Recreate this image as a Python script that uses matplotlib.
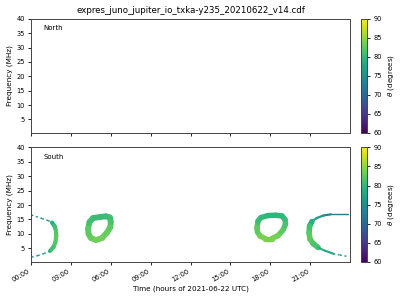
import numpy as np
import matplotlib
matplotlib.use('Agg')
import matplotlib.pyplot as plt
from matplotlib.collections import LineCollection
from matplotlib.colors import Normalize
from matplotlib.cm import ScalarMappable


'''
    Data read off the reference (time in hours, frequency in MHz, theta in degrees)
    North hemisphere: nothing. South: two arcs at the day edges, two rings.
'''
title = 'expres_juno_jupiter_io_txka-y235_20210622_v14.cdf'
tick_hours = [0, 3, 6, 9, 12, 15, 18, 21]
tick_labels = ['00:00', '03:00', '06:00', '09:00', '12:00', '15:00', '18:00', '21:00']

# arc at start of day
arcA_top_t = [0.04, 0.38, 0.83, 1.28, 1.58]
arcA_top_f = [16.54, 16.0, 15.33, 14.64, 13.94]
arcA_top_th = [74, 75, 76, 77, 78]
arcA_mid_t = [1.58, 1.77, 1.88, 1.90, 1.84, 1.69, 1.43]
arcA_mid_f = [13.94, 12.73, 11.0, 9.27, 7.19, 5.45, 4.07]
arcA_mid_th = [79, 81, 82, 82.5, 82, 81, 80]
arcA_low_t = [1.43, 0.98, 0.53, 0.08]
arcA_low_f = [4.07, 3.2, 2.51, 2.0]
arcA_low_th = [78, 77, 76, 75]

# ring around 05:00
ring1_t = [4.29, 4.40, 4.67, 5.19, 5.64, 5.94, 6.0, 5.97, 5.72, 5.34, 4.89, 4.51, 4.33, 4.29]
ring1_f = [11.69, 14.12, 15.5, 15.85, 16.09, 15.68, 14.12, 12.38, 10.48, 8.57, 7.88, 8.57, 9.96, 11.69]
ring1_th = [81.5, 81, 80.5, 80.5, 80.5, 81, 81.5, 82.5, 83, 83.5, 83.5, 83, 82.5, 81.5]

# ring around 18:00
ring2_t = [17.0, 17.08, 17.31, 17.84, 18.43, 18.89, 19.11, 19.15, 18.96, 18.59, 18.13, 17.61, 17.23, 17.04, 17.0]
ring2_f = [12.04, 14.47, 15.68, 16.37, 16.47, 16.2, 14.98, 13.42, 11.34, 9.44, 8.4, 8.4, 9.27, 10.65, 12.04]
ring2_th = [81.5, 80.5, 80, 79.5, 79.5, 80, 80.5, 81.5, 82.5, 83.5, 84, 84, 83.5, 82.5, 81.5]

# arc at end of day
arcB_line_t = [22.57, 23.88]
arcB_line_f = [16.78, 16.78]
arcB_line_th = [72, 72]
arcB_top_t = [22.57, 22.0, 21.5, 21.14]
arcB_top_f = [16.78, 16.37, 15.5, 14.29]
arcB_top_th = [74, 76, 77.5, 79]
arcB_mid_t = [21.14, 20.96, 20.92, 20.99, 21.22, 21.6]
arcB_mid_f = [14.29, 12.73, 10.3, 8.23, 6.67, 5.28]
arcB_mid_th = [79, 81, 82.5, 82.5, 81.5, 80]
arcB_low_t = [21.6, 22.12, 22.75]
arcB_low_f = [5.28, 4.17, 3.13]
arcB_low_th = [79, 78, 77]
arcB_dot_t = [22.75, 23.25, 23.78]
arcB_dot_f = [3.13, 2.68, 2.23]
arcB_dot_th = [77, 76, 76]


norm = Normalize(vmin=60, vmax=90)
cmap = 'viridis'


def track(ax, t, f, th, lw, ls='-'):
    pts = np.column_stack([t, f])
    segs = np.stack([pts[:-1], pts[1:]], axis=1)
    cap = 'round' if ls == '-' else 'butt'
    lc = LineCollection(segs, cmap=cmap, norm=norm, linewidths=lw,
                        linestyles=ls, capstyle=cap, joinstyle='round')
    lc.set_array(np.array(th[:-1], dtype=float))
    ax.add_collection(lc)


def style(ax, label):
    ax.set_xlim(0, 24)
    ax.set_ylim(0.3, 40)
    ax.set_yticks([5, 10, 15, 20, 25, 30, 35, 40])
    ax.set_xticks(tick_hours)
    ax.tick_params(labelsize=4.8, length=2.5, width=0.6, pad=2)
    for s in ax.spines.values():
        s.set_linewidth(0.7)
        s.set_color('#444444')
    ax.set_ylabel('Frequency (MHz)', fontsize=5.2, labelpad=2)
    ax.text(0.04, 0.9, label, transform=ax.transAxes, fontsize=5)


def colorbar(fig, rect):
    cax = fig.add_axes(rect)
    cb = fig.colorbar(ScalarMappable(norm=norm, cmap=cmap), cax=cax)
    cb.set_ticks([60, 65, 70, 75, 80, 85, 90])
    cb.ax.tick_params(labelsize=4.8, length=2.5, width=0.6, pad=2)
    cb.outline.set_linewidth(0.7)
    cb.outline.set_edgecolor('#444444')
    cb.set_label(r'$\theta$ (degrees)', fontsize=5.2, labelpad=3)


def main():
    fig = plt.figure(figsize=(4, 3), dpi=100)
    ax1 = fig.add_axes([0.0775, 0.557, 0.7975, 0.38])
    ax2 = fig.add_axes([0.0775, 0.127, 0.7975, 0.382])

    style(ax1, 'North')
    style(ax2, 'South')
    ax1.set_xticklabels([])
    ax1.set_title(title, fontsize=6.2, pad=4)

    ax2.set_xticklabels(tick_labels, rotation=30, ha='right')
    ax2.set_xlabel('Time (hours of 2021-06-22 UTC)', fontsize=5.2, labelpad=2)

    dots = (0, (1.2, 1.8))
    track(ax2, arcA_top_t, arcA_top_f, arcA_top_th, 1.1, dots)
    track(ax2, arcA_mid_t, arcA_mid_f, arcA_mid_th, 3.0)
    track(ax2, arcA_low_t, arcA_low_f, arcA_low_th, 1.1, dots)
    track(ax2, ring1_t, ring1_f, ring1_th, 4.2)
    track(ax2, ring2_t, ring2_f, ring2_th, 3.9)
    track(ax2, arcB_line_t, arcB_line_f, arcB_line_th, 1.0)
    track(ax2, arcB_top_t, arcB_top_f, arcB_top_th, 1.6)
    track(ax2, arcB_mid_t, arcB_mid_f, arcB_mid_th, 4.0)
    track(ax2, arcB_low_t, arcB_low_f, arcB_low_th, 1.5)
    track(ax2, arcB_dot_t, arcB_dot_f, arcB_dot_th, 1.1, dots)

    colorbar(fig, [0.9025, 0.557, 0.015, 0.38])
    colorbar(fig, [0.9025, 0.127, 0.015, 0.382])

    fig.savefig('out.png', dpi=100)


if __name__ == '__main__':
    main()
